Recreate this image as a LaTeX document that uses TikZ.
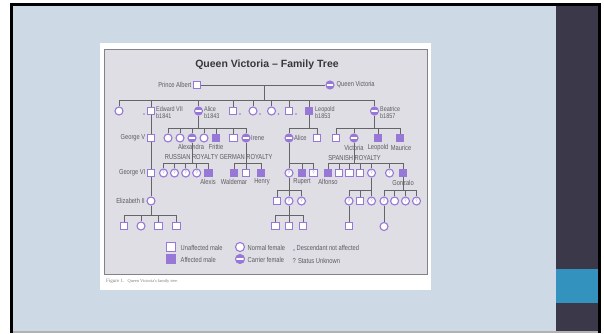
\documentclass[tikz,border=0pt]{standalone}
\usepackage{fontspec}
\setmainfont{Liberation Sans}
\newfontfamily\labfont[FakeStretch=0.8]{Liberation Sans}
\newfontfamily\capfont{Liberation Serif}
\usetikzlibrary{calc}
\pgfdeclarelayer{bg}
\pgfdeclarelayer{lines}
\pgfsetlayers{bg,lines,main}
\definecolor{slideblue}{RGB}{205,218,230}
\definecolor{darkbar}{RGB}{59,56,73}
\definecolor{tealbox}{RGB}{51,147,190}
\definecolor{panelgray}{RGB}{222,222,228}
\definecolor{panelborder}{RGB}{130,130,135}
\definecolor{lav}{RGB}{152,120,214}
\definecolor{linegray}{RGB}{100,100,105}
\definecolor{labgray}{RGB}{90,90,95}
\definecolor{titlegray}{RGB}{55,55,60}
\tikzset{
 male/.style={rectangle, draw=lav, fill=white, line width=1.1pt, minimum size=7.5pt, inner sep=0pt},
 amale/.style={male, fill=lav},
 fem/.style={circle, draw=lav, fill=white, line width=1.1pt, minimum size=8pt, inner sep=0pt},
 carrier/.style={fem, fill=lav, path picture={\fill[white] ([yshift=-0.6pt]path picture bounding box.west) rectangle ([yshift=0.6pt]path picture bounding box.east);}},
 unk/.style={fem, font=\labfont\fontsize{5}{5}\selectfont, text=lav},
 unkm/.style={male, font=\labfont\fontsize{5}{5}\selectfont, text=lav},
 con/.style={draw=linegray, line width=0.8pt},
 lab/.style={font=\labfont\fontsize{7.2}{7.5}\selectfont, text=labgray, inner sep=0.5pt},
 dotmark/.style={circle, fill=lav, inner sep=0pt, minimum size=1.8pt},
}
\begin{document}
\begin{tikzpicture}[x=1pt,y=-1pt]
\useasboundingbox (0,0) rectangle (604,333);
\begin{pgfonlayer}{bg}
\fill[white] (0,0) rectangle (604,333);
\fill[black] (10,3) rectangle (601,333);
\fill[slideblue] (13,6) rectangle (556,331);
\fill[darkbar] (556,6) rectangle (598,331);
\fill[tealbox] (556,269) rectangle (598,303);
\fill[gray!60] (13,331) rectangle (598,333);
\fill[white] (100,43) rectangle (431,290);
\filldraw[fill=panelgray, draw=panelborder, line width=1pt] (104,49) rectangle (427,274);
\end{pgfonlayer}

% title and caption
\node[font=\bfseries\fontsize{10.5}{10.5}\selectfont, text=titlegray] (title) at (267,65) {Queen Victoria – Family Tree};
\node[anchor=west, font=\capfont, text=gray, inner sep=0pt] (cap) at (106,281) {{\fontsize{5}{5}\selectfont Figure 1.} {\fontsize{4.4}{5}\selectfont Queen Victoria's family tree.}};

% generation 0
\node[male] (pa) at (197,85) {};
\node[carrier] (qv) at (330,85) {};
\node[lab, anchor=east] (lpa) at (192,85) {Prince Albert};
\node[lab, anchor=west] (lqv) at (336,85) {Queen Victoria};

% generation 1
\node[fem] (c1) at (119,111) {};
\node[male] (ed) at (151,111) {};
\node[carrier] (al) at (198.5,111) {};
\node[male] (c4) at (233,111) {};
\node[fem] (c5) at (253,111) {};
\node[fem] (c6) at (271.5,111) {};
\node[male] (c7) at (289,111) {};
\node[amale] (le) at (309,111) {};
\node[carrier] (be) at (374.5,111) {};
\node[dotmark] (d1) at (144,114) {};
\node[dotmark] (d4) at (240,114) {};
\node[dotmark] (d5) at (260,114) {};
\node[dotmark] (d6) at (278.5,114) {};
\node[dotmark] (d7) at (296,114) {};
\node[lab, anchor=north west, align=left, font=\labfont\fontsize{6.8}{6.6}\selectfont] (led) at (155.5,106) {Edward VII\\b1841};
\node[lab, anchor=north west, align=left, font=\labfont\fontsize{6.8}{6.6}\selectfont] (lal) at (203.5,106) {Alice\\b1843};
\node[lab, anchor=north west, align=left, font=\labfont\fontsize{6.8}{6.6}\selectfont] (lle) at (314.5,106) {Leopold\\b1853};
\node[lab, anchor=north west, align=left, font=\labfont\fontsize{6.8}{6.6}\selectfont] (lbe) at (379.5,106) {Beatrice\\b1857};

% generation 2
\node[male] (gv) at (151,138) {};
\node[lab, anchor=east] (lgv) at (146,138) {George V};
\node[fem] (a1) at (168,138) {};
\node[fem] (a2) at (180,138) {};
\node[carrier] (alx) at (192,138) {};
\node[fem] (a4) at (204,138) {};
\node[amale] (fri) at (216,138) {};
\node[male] (a6) at (233.5,138) {};
\node[carrier] (ire) at (246,138) {};
\node[lab] (lalx) at (191,147) {Alexandra};
\node[lab] (lfri) at (216,147) {Frittie};
\node[lab, anchor=west] (lire) at (250.5,138) {Irene};
\node[carrier] (ali) at (289,138) {};
\node[male] (l2) at (317,138) {};
\node[lab, anchor=west] (lali) at (293.5,138) {Alice};
\node[male] (b1) at (336,138) {};
\node[carrier] (vic) at (354,138) {};
\node[amale] (leo) at (378,138) {};
\node[amale] (mau) at (400,138) {};
\node[lab] (lvic) at (354,148) {Victoria};
\node[lab] (lleo) at (378,148) {Leopold};
\node[lab] (lmau) at (401,148) {Maurice};
\node[lab] (rus) at (191.5,157) {RUSSIAN ROYALTY};
\node[lab] (ger) at (246,157) {GERMAN ROYALTY};
\node[lab] (spa) at (354.5,158) {SPANISH ROYALTY};

% generation 3
\node[male] (g6) at (151,173) {};
\node[lab, anchor=east] (lg6) at (146,173) {George VI};
\node[unk] (r1) at (163.5,173) {?};
\node[unk] (r2) at (174.5,173) {?};
\node[unk] (r3) at (185.7,173) {?};
\node[unk] (r4) at (196.7,173) {?};
\node[amale] (alexis) at (208.5,173) {};
\node[lab] (lalexis) at (208,181.5) {Alexis};
\node[amale] (wal) at (234,173) {};
\node[male] (gm) at (246,173) {};
\node[amale] (hen) at (261,173) {};
\node[lab] (lwal) at (234,181.5) {Waldemar};
\node[lab] (lhen) at (262,181.5) {Henry};
\node[unk] (k1) at (289,173) {?};
\node[amale] (rup) at (302,173) {};
\node[unkm] (k3) at (313.5,173) {?};
\node[lab] (lrup) at (302,181.5) {Rupert};
\node[amale] (alf) at (328,173) {};
\node[male] (s2) at (339,173) {};
\node[male] (s3) at (349.5,173) {};
\node[male] (s4) at (360,173) {};
\node[unk] (s5) at (371.5,173) {?};
\node[unk] (s6) at (389.5,173) {?};
\node[amale] (gon) at (403,173) {};
\node[lab] (lalf) at (328,181.5) {Alfonso};
\node[lab] (lgon) at (403,182.5) {Gonzalo};

% generation 4
\node[fem] (eliz) at (151,201) {};
\node[lab, anchor=east] (leliz) at (145.5,201) {Elizabeth II};
\node[male] (m1) at (277,201) {};
\node[unk] (m2) at (289,201) {?};
\node[unk] (m3) at (301.5,201) {?};
\node[unk] (n1) at (349,201) {?};
\node[male] (n2) at (360,201) {};
\node[unk] (n3) at (371.5,201) {?};
\node[unk] (p1) at (384,201) {?};
\node[fem] (p2) at (394.6,201) {};
\node[unk] (p3) at (405.5,201) {?};
\node[unk] (p4) at (416.5,201) {?};

% generation 5
\node[male] (e1) at (124,226) {};
\node[fem] (e2) at (141,226) {};
\node[male] (e3) at (158.5,226) {};
\node[male] (e4) at (176.5,226) {};
\node[male] (q1) at (275.5,226) {};
\node[male] (q2) at (289,226) {};
\node[male] (q3) at (303,226) {};
\node[male] (t1) at (349,226) {};
\node[fem] (t2) at (384,226.5) {};

% legend
\node[male, minimum size=8.5pt] (kum) at (171,247) {};
\node[amale, minimum size=8.5pt] (kam) at (171,259) {};
\node[fem, minimum size=9pt] (knf) at (240,247) {};
\node[carrier, minimum size=9pt] (kcf) at (240,259) {};
\node[lab, anchor=west] (lkum) at (180,247.5) {Unaffected male};
\node[lab, anchor=west] (lkam) at (180,259.5) {Affected male};
\node[lab, anchor=west] (lknf) at (247,247.5) {Normal female};
\node[lab, anchor=west] (lkcf) at (247,259.5) {Carrier female};
\node[dotmark] (kdot) at (294,250) {};
\node[lab, anchor=west] (lkdot) at (296,248) {Descendant not affected};
\node[lab, anchor=west] (lkq) at (292,260.5) {? Status Unknown};

\begin{pgfonlayer}{lines}
% marriage and first generation
\draw[con] (pa) -- (qv);
\coordinate (m0) at (264,85);
\coordinate (s0) at (264,100);
\draw[con] (m0) -- (s0);
\draw[con] (c1 |- s0) -- (be |- s0);
\foreach \n in {c1,ed,al,c4,c5,c6,c7,le,be} \draw[con] (\n) -- (\n |- s0);
% Edward's line
\draw[con] (ed) -- (eliz);
\coordinate (se) at (0,215);
\draw[con] (eliz) -- (eliz |- se);
\draw[con] (e1 |- se) -- (e4 |- se);
\foreach \n in {e1,e2,e3,e4} \draw[con] (\n) -- (\n |- se);
% Alice's children
\coordinate (sa) at (0,128);
\draw[con] (al) -- (al |- sa);
\draw[con] (a1 |- sa) -- (ire |- sa);
\foreach \n in {a1,a2,alx,a4,fri,a6,ire} \draw[con] (\n) -- (\n |- sa);
% Leopold's children
\draw[con] (le) -- (le |- sa);
\draw[con] (ali |- sa) -- (l2 |- sa);
\foreach \n in {ali,l2} \draw[con] (\n) -- (\n |- sa);
% Beatrice's children
\draw[con] (be) -- (be |- sa);
\draw[con] (b1 |- sa) -- (mau |- sa);
\foreach \n in {b1,vic,leo,mau} \draw[con] (\n) -- (\n |- sa);
% Russian royalty
\coordinate (sr) at (0,163);
\draw[con] (alx) -- (alx |- sr);
\draw[con] (r1 |- sr) -- (alexis |- sr);
\foreach \n in {r1,r2,r3,r4,alexis} \draw[con] (\n) -- (\n |- sr);
% German royalty
\draw[con] (ire) -- (gm);
\draw[con] (wal |- sr) -- (hen |- sr);
\foreach \n in {wal,hen} \draw[con] (\n) -- (\n |- sr);
% Alice (of Albany) children
\draw[con] (ali) -- (ali |- sr);
\draw[con] (k1 |- sr) -- (k3 |- sr);
\foreach \n in {k1,rup,k3} \draw[con] (\n) -- (\n |- sr);
% Spanish royalty
\draw[con] (vic) -- (vic |- sr);
\draw[con] (alf |- sr) -- (gon |- sr);
\foreach \n in {alf,s2,s3,s4,s5,s6,gon} \draw[con] (\n) -- (\n |- sr);
% next generation
\coordinate (sg) at (0,190);
\draw[con] (k1) -- (k1 |- sg);
\draw[con] (m1 |- sg) -- (m3 |- sg);
\foreach \n in {m1,m2,m3} \draw[con] (\n) -- (\n |- sg);
\draw[con] (s5) -- (s5 |- sg);
\draw[con] (n1 |- sg) -- (n3 |- sg);
\foreach \n in {n1,n2,n3} \draw[con] (\n) -- (\n |- sg);
\draw[con] (gon) -- (gon |- sg);
\draw[con] (p1 |- sg) -- (p4 |- sg);
\foreach \n in {p1,p2,p3,p4} \draw[con] (\n) -- (\n |- sg);
\draw[con] (m2) -- (m2 |- se);
\draw[con] (q1 |- se) -- (q3 |- se);
\foreach \n in {q1,q2,q3} \draw[con] (\n) -- (\n |- se);
\draw[con] (n1) -- (t1);
\draw[con] (p1) -- (t2);
\end{pgfonlayer}
\end{tikzpicture}
\end{document}
